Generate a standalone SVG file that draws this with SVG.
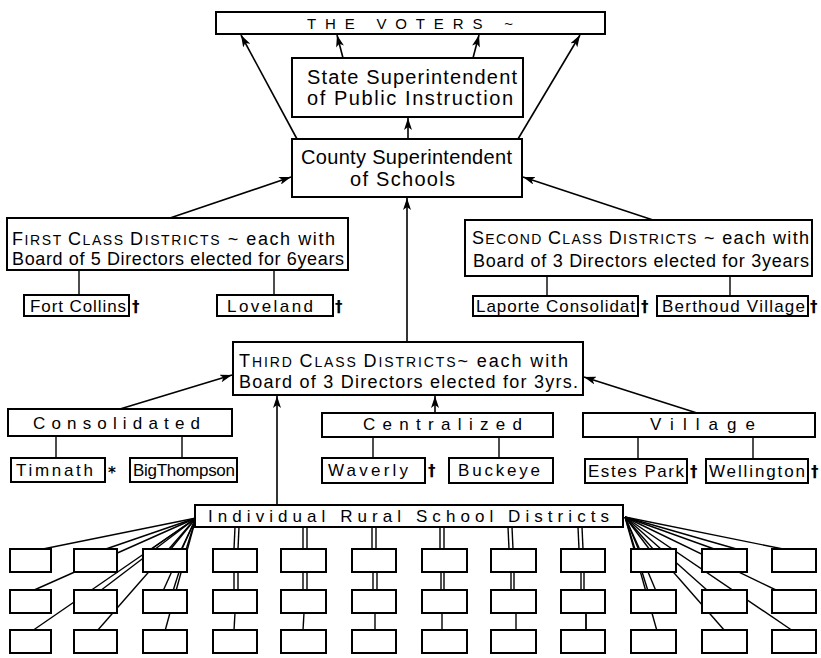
<svg xmlns="http://www.w3.org/2000/svg" width="821" height="658" viewBox="0 0 821 658">
<defs>
<marker id="ah" viewBox="0 0 12 8" refX="12" refY="4" markerWidth="12" markerHeight="8" markerUnits="userSpaceOnUse" orient="auto">
<path d="M0,0 L12,4 L0,8 L3,4 z" fill="#000"/>
</marker>
<style>
.box{fill:#fff;stroke:#000;stroke-width:2}
.sb{fill:#fff;stroke:#000;stroke-width:2}
.ln{fill:none;stroke:#000;stroke-width:1.4}
.ar{fill:none;stroke:#000;stroke-width:1.6;marker-end:url(#ah)}
.t{font-family:"Liberation Sans","DejaVu Sans",sans-serif;fill:#000}
.big{font-size:20px}
.mid{font-size:18px}
.sm{font-size:17px}
.sp{font-size:17px}
.vt{font-size:15px}
.mk{font-family:"DejaVu Sans",sans-serif;font-size:15px;font-weight:bold;fill:#000}
</style>
</defs>
<rect width="821" height="658" fill="#fff"/>

<g id="connectors">
<line class="ar" x1="297" y1="139" x2="241" y2="35"/>
<line class="ar" x1="518" y1="139" x2="580" y2="35"/>
<line class="ar" x1="343" y1="58" x2="337" y2="35"/>
<line class="ar" x1="473" y1="58" x2="479" y2="35"/>
<line class="ar" x1="408" y1="139" x2="408" y2="118"/>
<line class="ar" x1="170" y1="218" x2="291" y2="177"/>
<line class="ar" x1="653" y1="220" x2="523" y2="177"/>
<line class="ar" x1="407" y1="342" x2="407" y2="198"/>
<line class="ar" x1="120" y1="409" x2="232" y2="375"/>
<line class="ar" x1="435" y1="413" x2="435" y2="396"/>
<line class="ar" x1="697" y1="413" x2="584" y2="377"/>
<line class="ar" x1="277" y1="505" x2="277" y2="396"/>
<line class="ln" x1="79" y1="270" x2="79" y2="295"/>
<line class="ln" x1="274" y1="270" x2="274" y2="295"/>
<line class="ln" x1="547" y1="276" x2="547" y2="296"/>
<line class="ln" x1="730" y1="276" x2="730" y2="296"/>
<line class="ln" x1="56" y1="436" x2="56" y2="458"/>
<line class="ln" x1="182" y1="436" x2="182" y2="458"/>
<line class="ln" x1="373" y1="437" x2="373" y2="458"/>
<line class="ln" x1="499" y1="437" x2="499" y2="458"/>
<line class="ln" x1="638" y1="437" x2="638" y2="459"/>
<line class="ln" x1="753" y1="437" x2="753" y2="459"/>
<g class="ln">
<line x1="196" y1="518" x2="38" y2="550"/>
<line x1="196" y1="518" x2="32" y2="591"/>
<line x1="196" y1="518" x2="32" y2="631"/>
<line x1="196" y1="518" x2="103" y2="550"/>
<line x1="196" y1="518" x2="100" y2="591"/>
<line x1="196" y1="518" x2="97" y2="631"/>
<line x1="196" y1="518" x2="170" y2="550"/>
<line x1="196" y1="518" x2="181" y2="550"/>
<line x1="196" y1="518" x2="163" y2="591"/>
<line x1="196" y1="518" x2="173" y2="591"/>
<line x1="196" y1="518" x2="165" y2="631"/>
<line x1="196" y1="518" x2="150" y2="550"/>
</g>
<g class="ln">
<line x1="625" y1="517" x2="640" y2="550"/>
<line x1="625" y1="517" x2="650" y2="550"/>
<line x1="625" y1="517" x2="648" y2="591"/>
<line x1="625" y1="517" x2="656" y2="591"/>
<line x1="625" y1="517" x2="657" y2="631"/>
<line x1="625" y1="517" x2="717" y2="550"/>
<line x1="625" y1="517" x2="708" y2="591"/>
<line x1="625" y1="517" x2="725" y2="631"/>
<line x1="625" y1="517" x2="788" y2="550"/>
<line x1="625" y1="517" x2="778" y2="591"/>
<line x1="625" y1="517" x2="793" y2="631"/>
<line x1="625" y1="517" x2="740" y2="550"/>
</g>
<g class="ln" stroke-width="1.2">
<line x1="235" y1="527" x2="234" y2="549"/><line x1="239" y1="527" x2="238" y2="549"/>
<line x1="234" y1="572" x2="234" y2="590"/><line x1="238" y1="572" x2="238" y2="590"/>
<line x1="235" y1="613" x2="234" y2="630"/>
<line x1="303" y1="527" x2="303" y2="549"/><line x1="307" y1="527" x2="307" y2="549"/>
<line x1="303" y1="572" x2="303" y2="590"/><line x1="307" y1="572" x2="307" y2="590"/>
<line x1="304" y1="613" x2="303" y2="630"/>
<line x1="372" y1="527" x2="372" y2="549"/><line x1="376" y1="527" x2="376" y2="549"/>
<line x1="373" y1="572" x2="373" y2="590"/><line x1="377" y1="572" x2="377" y2="590"/>
<line x1="375" y1="613" x2="375" y2="630"/>
<line x1="440" y1="527" x2="440" y2="549"/><line x1="444" y1="527" x2="444" y2="549"/>
<line x1="441" y1="572" x2="441" y2="590"/><line x1="444" y1="572" x2="444" y2="590"/>
<line x1="442" y1="613" x2="442" y2="630"/>
<line x1="508" y1="527" x2="509" y2="549"/><line x1="512" y1="527" x2="513" y2="549"/>
<line x1="511" y1="572" x2="511" y2="590"/><line x1="514" y1="572" x2="514" y2="590"/>
<line x1="516" y1="613" x2="516" y2="630"/>
<line x1="578" y1="527" x2="579" y2="549"/><line x1="582" y1="527" x2="583" y2="549"/>
<line x1="581" y1="572" x2="581" y2="590"/><line x1="584" y1="572" x2="584" y2="590"/>
<line x1="586" y1="613" x2="586" y2="630" stroke-width="1.8"/>
</g>
</g>

<g id="voters"><rect class="box" x="216" y="12" width="389" height="22"/>
<text class="t vt" x="307" y="29" textLength="206">THE  VOTERS ~</text></g>

<g id="state"><rect class="box" x="292" y="58" width="231" height="59"/>
<text class="t big" x="307" y="84" textLength="210">State Superintendent</text>
<text class="t big" x="307" y="105" textLength="206">of Public Instruction</text></g>

<g id="county"><rect class="box" x="292" y="139" width="230" height="58"/>
<text class="t big" x="301" y="164" textLength="211">County Superintendent</text>
<text class="t big" x="350" y="186" textLength="105">of  Schools</text></g>

<g id="first-class"><rect class="box" x="7" y="218" width="341" height="52"/>
<text class="t mid" x="12" y="245" textLength="323"><tspan>F</tspan><tspan font-size="14">IRST </tspan><tspan>C</tspan><tspan font-size="14">LASS </tspan><tspan>D</tspan><tspan font-size="14">ISTRICTS</tspan> ~ each with</text>
<text class="t mid" x="12" y="265" textLength="332">Board of 5 Directors elected for 6years</text></g>

<g id="fort-collins"><rect class="sb" x="24" y="295" width="105" height="21"/>
<text class="t sm" x="30" y="312" textLength="96">Fort Collins</text>
<text class="mk" x="132" y="312">†</text></g>

<g id="loveland"><rect class="sb" x="217" y="295" width="116" height="21"/>
<text class="t sm" x="227" y="312" textLength="86">Loveland</text>
<text class="mk" x="335" y="312">†</text></g>

<g id="second-class"><rect class="box" x="465" y="220" width="347" height="56"/>
<text class="t mid" x="472" y="244" textLength="337"><tspan>S</tspan><tspan font-size="14">ECOND </tspan><tspan>C</tspan><tspan font-size="14">LASS </tspan><tspan>D</tspan><tspan font-size="14">ISTRICTS</tspan> ~ each with</text>
<text class="t mid" x="473" y="267" textLength="336">Board of 3 Directors elected for 3years</text></g>

<g id="laporte"><rect class="sb" x="473" y="296" width="165" height="20"/>
<text class="t sm" x="476" y="312" textLength="159">Laporte Consolidat</text>
<text class="mk" x="641" y="312">†</text></g>

<g id="berthoud"><rect class="sb" x="657" y="296" width="151" height="20"/>
<text class="t sm" x="662" y="312" textLength="143">Berthoud Village</text>
<text class="mk" x="810" y="312">†</text></g>

<g id="third-class"><rect class="box" x="233" y="342" width="350" height="53"/>
<text class="t mid" x="239" y="367" textLength="329"><tspan>T</tspan><tspan font-size="14">HIRD </tspan><tspan>C</tspan><tspan font-size="14">LASS </tspan><tspan>D</tspan><tspan font-size="14">ISTRICTS</tspan>~ each with</text>
<text class="t mid" x="239" y="388" textLength="339">Board of 3 Directors elected for 3yrs.</text></g>

<g id="consolidated"><rect class="box" x="8" y="409" width="224" height="27"/>
<text class="t sp" x="33" y="429" textLength="167">Consolidated</text></g>

<g id="centralized"><rect class="box" x="322" y="413" width="231" height="24"/>
<text class="t sp" x="363" y="430" textLength="159">Centralized</text></g>

<g id="village"><rect class="box" x="583" y="413" width="232" height="24"/>
<text class="t sp" x="650" y="430" textLength="105">Village</text></g>

<g id="timnath"><rect class="sb" x="11" y="458" width="94" height="24"/>
<text class="t sm" x="16" y="476" textLength="77">Timnath</text>
<text class="mk" x="108" y="478">*</text></g>

<g id="big-thompson"><rect class="sb" x="130" y="458" width="107" height="24"/>
<text class="t sm" x="133" y="476" textLength="102">BigThompson</text></g>

<g id="waverly"><rect class="sb" x="322" y="458" width="103" height="25"/>
<text class="t sm" x="328" y="476" textLength="80">Waverly</text>
<text class="mk" x="428" y="476">†</text></g>

<g id="buckeye"><rect class="sb" x="449" y="458" width="104" height="25"/>
<text class="t sm" x="458" y="476" textLength="82">Buckeye</text></g>

<g id="estes-park"><rect class="sb" x="585" y="459" width="102" height="24"/>
<text class="t sm" x="588" y="477" textLength="96">Estes Park</text>
<text class="mk" x="690" y="477">†</text></g>

<g id="wellington"><rect class="sb" x="706" y="459" width="102" height="24"/>
<text class="t sm" x="709" y="477" textLength="96">Wellington</text>
<text class="mk" x="811" y="477">†</text></g>

<g id="individual-rural"><rect class="box" x="195" y="505" width="428" height="22"/>
<text class="t sp" x="208" y="522" textLength="401">Individual Rural School Districts</text></g>

<g id="rural-schools">
<rect class="sb" x="10" y="549" width="41" height="23"/><rect class="sb" x="74" y="549" width="43" height="23"/><rect class="sb" x="143" y="549" width="44" height="23"/><rect class="sb" x="213" y="549" width="44" height="23"/><rect class="sb" x="281" y="549" width="45" height="23"/><rect class="sb" x="352" y="549" width="44" height="23"/><rect class="sb" x="422" y="549" width="45" height="23"/><rect class="sb" x="491" y="549" width="45" height="23"/><rect class="sb" x="561" y="549" width="44" height="23"/><rect class="sb" x="631" y="549" width="45" height="23"/><rect class="sb" x="702" y="549" width="45" height="23"/><rect class="sb" x="772" y="549" width="44" height="23"/>
<rect class="sb" x="10" y="590" width="41" height="23"/><rect class="sb" x="74" y="590" width="43" height="23"/><rect class="sb" x="143" y="590" width="44" height="23"/><rect class="sb" x="213" y="590" width="44" height="23"/><rect class="sb" x="281" y="590" width="45" height="23"/><rect class="sb" x="352" y="590" width="44" height="23"/><rect class="sb" x="422" y="590" width="45" height="23"/><rect class="sb" x="491" y="590" width="45" height="23"/><rect class="sb" x="561" y="590" width="44" height="23"/><rect class="sb" x="631" y="590" width="45" height="23"/><rect class="sb" x="702" y="590" width="45" height="23"/><rect class="sb" x="772" y="590" width="44" height="23"/>
<rect class="sb" x="10" y="630" width="41" height="23"/><rect class="sb" x="74" y="630" width="43" height="23"/><rect class="sb" x="143" y="630" width="44" height="23"/><rect class="sb" x="213" y="630" width="44" height="23"/><rect class="sb" x="281" y="630" width="45" height="23"/><rect class="sb" x="352" y="630" width="44" height="23"/><rect class="sb" x="422" y="630" width="45" height="23"/><rect class="sb" x="491" y="630" width="45" height="23"/><rect class="sb" x="561" y="630" width="44" height="23"/><rect class="sb" x="631" y="630" width="45" height="23"/><rect class="sb" x="702" y="630" width="45" height="23"/><rect class="sb" x="772" y="630" width="44" height="23"/>
</g>
</svg>
